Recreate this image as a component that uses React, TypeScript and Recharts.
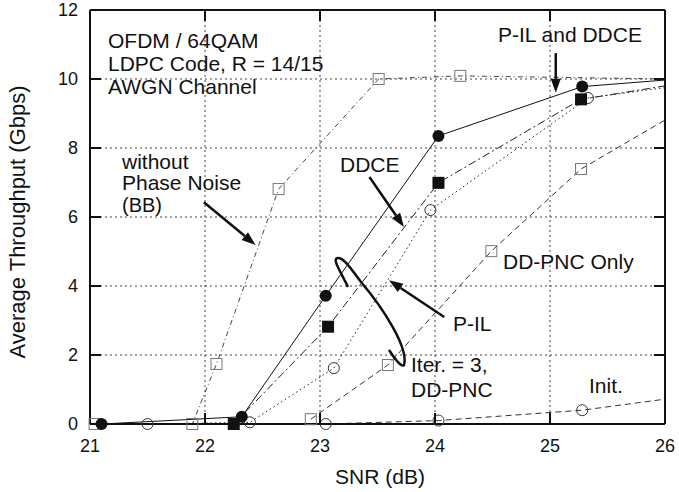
import React from 'react';
import { LineChart, Line, XAxis, YAxis, CartesianGrid, ReferenceLine, ReferenceDot, Customized } from 'recharts';

const xTicks = [21, 22, 23, 24, 25, 26];
const yTicks = [0, 2, 4, 6, 8, 10, 12];

// P-IL and DDCE (filled circles)
const pilDdceX = [21.1, 22.32, 23.05, 24.03, 25.28, 26];
const pilDdceY = [0, 0.21, 3.72, 8.35, 9.78, 9.97];
// DDCE (filled squares)
const ddceX = [22.25, 23.07, 24.03, 25.27, 26];
const ddceY = [0, 2.82, 6.99, 9.41, 9.8];
// P-IL (open circles)
const pilX = [21.5, 22.39, 23.12, 23.96, 25.33, 26];
const pilY = [0, 0.05, 1.62, 6.2, 9.45, 9.75];
// Init. (open circles)
const initX = [23.05, 24.03, 25.28, 26];
const initY = [0, 0.1, 0.4, 0.72];
// DD-PNC only (open squares)
const ddpncX = [22.92, 23.59, 24.49, 25.27, 26];
const ddpncY = [0.14, 1.71, 5.01, 7.39, 8.81];
// without phase noise (BB)
const bbX = [21.04, 21.89, 22.1, 22.64, 23.51, 24.22, 26];
const bbY = [0, 0, 1.74, 6.81, 10.0, 10.09, 10.0];

const toData = (xs: number[], ys: number[]) => xs.map((x, i) => ({ x, y: ys[i] }));

const FONT = "'Liberation Sans', Arial, sans-serif";

// layout
const W = 679;
const H = 492;
const MARGIN = { top: 10, right: 14, bottom: 38, left: 0 };
const Y_AXIS_W = 90;
const X_AXIS_H = 30;
const PLOT_LEFT = MARGIN.left + Y_AXIS_W;
const PLOT_RIGHT = W - MARGIN.right;
const PLOT_TOP = MARGIN.top;
const PLOT_BOTTOM = H - MARGIN.bottom - X_AXIS_H;
const TICK_LEN = 11;

const XTick = (props: any) => {
  const { x, payload } = props;
  const v = payload.value;
  const inner = v !== xTicks[0] && v !== xTicks[xTicks.length - 1];
  return (
    <g>
      {inner && <line x1={x} x2={x} y1={PLOT_BOTTOM} y2={PLOT_BOTTOM - TICK_LEN} stroke="#111" strokeWidth={2} />}
      {inner && <line x1={x} x2={x} y1={PLOT_TOP} y2={PLOT_TOP + TICK_LEN} stroke="#111" strokeWidth={2} />}
      <text x={x} y={PLOT_BOTTOM + 28} textAnchor="middle" fontSize={18} fill="#111">{v}</text>
    </g>
  );
};

const YTick = (props: any) => {
  const { y, payload } = props;
  const v = payload.value;
  const inner = v !== yTicks[0] && v !== yTicks[yTicks.length - 1];
  return (
    <g>
      {inner && <line x1={PLOT_LEFT} x2={PLOT_LEFT + TICK_LEN} y1={y} y2={y} stroke="#111" strokeWidth={2} />}
      {inner && <line x1={PLOT_RIGHT} x2={PLOT_RIGHT - TICK_LEN} y1={y} y2={y} stroke="#111" strokeWidth={2} />}
      <text x={PLOT_LEFT - 12} y={y} dy="0.36em" textAnchor="end" fontSize={18} fill="#111">{v}</text>
    </g>
  );
};

const makeDot = (kind: string) => (props: any) => {
  const { cx, cy, payload, index } = props;
  if (cx == null || payload.x >= 26) return <g key={index} />;
  if (kind === 'fc') return <circle key={index} cx={cx} cy={cy} r={6} fill="#111" />;
  if (kind === 'fs') return <rect key={index} x={cx - 6} y={cy - 6} width={12} height={12} fill="#111" />;
  if (kind === 'oc') return <circle key={index} cx={cx} cy={cy} r={5.5} fill="none" stroke="#333" strokeWidth={1} />;
  return <rect key={index} x={cx - 5.5} y={cy - 5.5} width={11} height={11} fill="none" stroke="#777" strokeWidth={1} />;
};

const Arrow = (props: any) => {
  const { x1, y1, x2, y2 } = props;
  const a = Math.atan2(y2 - y1, x2 - x1);
  const L = 14;
  const hw = 5;
  const bx = x2 - L * Math.cos(a);
  const by = y2 - L * Math.sin(a);
  const pts = `${x2},${y2} ${bx + hw * Math.sin(a)},${by - hw * Math.cos(a)} ${bx - hw * Math.sin(a)},${by + hw * Math.cos(a)}`;
  return (
    <g>
      <line x1={x1} y1={y1} x2={bx} y2={by} stroke="#111" strokeWidth={2.5} />
      <polygon points={pts} fill="#111" />
    </g>
  );
};

const Lasso = (props: any) => {
  const { cx, cy } = props;
  const d = `M ${cx + 5} ${cy + 1} C ${cx - 2} ${cy - 14}, ${cx - 12} ${cy - 28}, ${cx - 5} ${cy - 28} C ${cx + 2} ${cy - 28}, ${cx + 10} ${cy - 14}, ${cx + 18} ${cy - 4} C ${cx + 40} ${cy + 22}, ${cx + 66} ${cy + 62}, ${cx + 61} ${cy + 79} C ${cx + 58} ${cy + 82}, ${cx + 50} ${cy + 70}, ${cx + 46} ${cy + 64}`;
  return <path d={d} fill="none" stroke="#111" strokeWidth={2.5} />;
};

const Annotations = () => (
  <g style={{ fontFamily: FONT }} fill="#111" fontSize={21}>
    <text x={108} y={48}>OFDM / 64QAM</text>
    <text x={108} y={71}>LDPC Code, R = 14/15</text>
    <text x={108} y={94}>AWGN Channel</text>
    <text x={122} y={169}>without</text>
    <text x={122} y={190}>Phase Noise</text>
    <text x={122} y={212} fontSize={20}>(BB)</text>
    <text x={340} y={172}>DDCE</text>
    <text x={498} y={42}>P-IL and DDCE</text>
    <text x={503} y={269}>DD-PNC Only</text>
    <text x={453} y={331}>P-IL</text>
    <text x={411} y={372}>Iter. = 3,</text>
    <text x={411} y={397}>DD-PNC</text>
    <text x={589} y={393}>Init.</text>
    <text x={380} y={484} textAnchor="middle" fontSize={21}>SNR (dB)</text>
    <text x={0} y={0} textAnchor="middle" fontSize={22} transform="translate(25,222) rotate(-90)">Average Throughput (Gbps)</text>
  </g>
);

const frame = { stroke: '#111', strokeWidth: 2 };

export default function App() {
  return (
    <div style={{ position: 'absolute', left: 0, top: 0, width: W, height: H, background: '#fff', fontFamily: FONT }}>
      <LineChart width={W} height={H} margin={MARGIN}>
        <CartesianGrid stroke="#444" strokeDasharray="2 3" strokeWidth={1} />
        <XAxis dataKey="x" type="number" domain={[21, 26]} ticks={xTicks} height={X_AXIS_H}
          axisLine={frame} tickLine={false} tick={<XTick />} />
        <XAxis xAxisId="t" orientation="top" dataKey="x" type="number" domain={[21, 26]} ticks={xTicks}
          mirror axisLine={frame} tickLine={false} tick={false} />
        <YAxis type="number" domain={[0, 12]} ticks={yTicks} width={Y_AXIS_W}
          axisLine={frame} tickLine={false} tick={<YTick />} />
        <YAxis yAxisId="r" orientation="right" type="number" domain={[0, 12]} ticks={yTicks}
          mirror axisLine={frame} tickLine={false} tick={false} />

        <Line data={toData(bbX, bbY)} dataKey="y" stroke="#444" strokeWidth={1} strokeDasharray="5 3 1 3" dot={makeDot('os')} isAnimationActive={false} />
        <Line data={toData(ddpncX, ddpncY)} dataKey="y" stroke="#333" strokeWidth={1} strokeDasharray="6 4" dot={makeDot('os')} isAnimationActive={false} />
        <Line data={toData(initX, initY)} dataKey="y" stroke="#333" strokeWidth={1} strokeDasharray="6 4" dot={makeDot('oc')} isAnimationActive={false} />
        <Line data={toData(pilX, pilY)} dataKey="y" stroke="#222" strokeWidth={1} strokeDasharray="1.5 3" dot={makeDot('oc')} isAnimationActive={false} />
        <Line data={toData(ddceX, ddceY)} dataKey="y" stroke="#222" strokeWidth={1} strokeDasharray="8 3 2 3" dot={makeDot('fs')} isAnimationActive={false} />
        <Line data={toData(pilDdceX, pilDdceY)} dataKey="y" stroke="#111" strokeWidth={1} dot={makeDot('fc')} isAnimationActive={false} />

        <ReferenceLine segment={[{ x: 21.99, y: 6.43 }, { x: 22.44, y: 5.19 }]} shape={Arrow} ifOverflow="visible" />
        <ReferenceLine segment={[{ x: 23.43, y: 7.16 }, { x: 23.73, y: 5.71 }]} shape={Arrow} ifOverflow="visible" />
        <ReferenceLine segment={[{ x: 24.08, y: 3.1 }, { x: 23.6, y: 4.17 }]} shape={Arrow} ifOverflow="visible" />
        <ReferenceLine segment={[{ x: 25.05, y: 10.75 }, { x: 25.05, y: 9.6 }]} shape={Arrow} ifOverflow="visible" />
        <ReferenceDot x={23.2} y={4} r={0} shape={Lasso} ifOverflow="visible" />

        <Customized component={<Annotations />} />
      </LineChart>
    </div>
  );
}
